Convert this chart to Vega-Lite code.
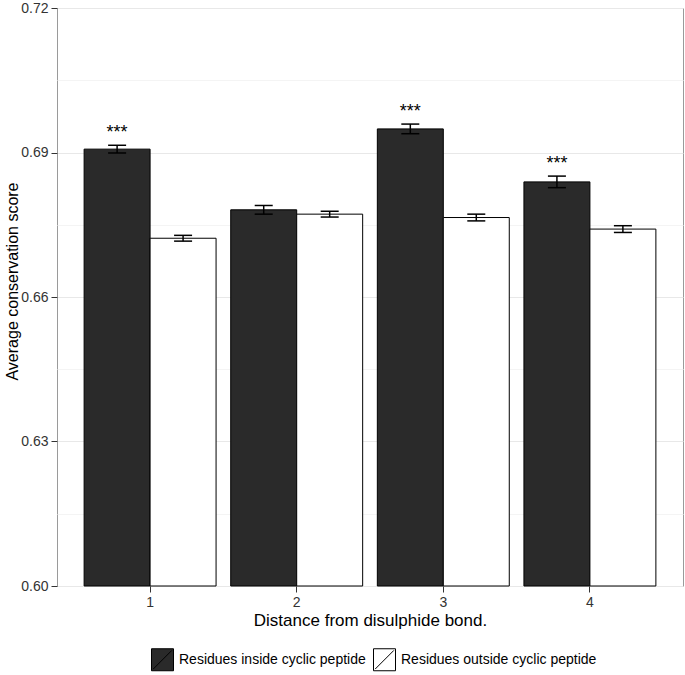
{
  "$schema": "https://vega.github.io/schema/vega-lite/v6.json",
  "width": 626,
  "height": 578,
  "autosize": {"type": "none"},
  "padding": {"left": 57, "top": 8, "right": 2, "bottom": 89},
  "background": "white",
  "config": {
    "font": "Liberation Sans",
    "view": {"stroke": "#9a9a9a", "strokeWidth": 1},
    "axis": {
      "domain": false,
      "tickColor": "#333333",
      "tickSize": 6,
      "labelFontSize": 14,
      "labelColor": "#333333",
      "titleFontSize": 16.5,
      "titleFontWeight": "normal",
      "titleColor": "black"
    }
  },
  "data": {
    "values": [
      {"distance": "1", "group": "Residues inside cyclic peptide", "mean": 0.6907, "lo": 0.6899, "hi": 0.6915, "stars": "***"},
      {"distance": "1", "group": "Residues outside cyclic peptide", "mean": 0.6722, "lo": 0.6716, "hi": 0.6728, "stars": ""},
      {"distance": "2", "group": "Residues inside cyclic peptide", "mean": 0.6781, "lo": 0.6772, "hi": 0.6790, "stars": ""},
      {"distance": "2", "group": "Residues outside cyclic peptide", "mean": 0.6772, "lo": 0.6766, "hi": 0.6778, "stars": ""},
      {"distance": "3", "group": "Residues inside cyclic peptide", "mean": 0.6949, "lo": 0.6939, "hi": 0.6959, "stars": "***"},
      {"distance": "3", "group": "Residues outside cyclic peptide", "mean": 0.6765, "lo": 0.6758, "hi": 0.6772, "stars": ""},
      {"distance": "4", "group": "Residues inside cyclic peptide", "mean": 0.6839, "lo": 0.6827, "hi": 0.6851, "stars": "***"},
      {"distance": "4", "group": "Residues outside cyclic peptide", "mean": 0.6741, "lo": 0.6734, "hi": 0.6748, "stars": ""}
    ]
  },
  "encoding": {
    "x": {
      "field": "distance",
      "type": "ordinal",
      "title": "Distance from disulphide bond.",
      "scale": {"paddingInner": 0.1, "paddingOuter": 0.185},
      "axis": {"labelAngle": 0, "labelPadding": 3, "titlePadding": 3, "titleFontSize": 17, "grid": false}
    },
    "xOffset": {
      "field": "group",
      "type": "nominal",
      "scale": {"domain": ["Residues inside cyclic peptide", "Residues outside cyclic peptide"], "paddingInner": 0, "paddingOuter": 0}
    }
  },
  "layer": [
    {
      "mark": {"type": "bar", "stroke": "black", "strokeWidth": 1},
      "encoding": {
        "y": {
          "field": "mean",
          "type": "quantitative",
          "title": "Average conservation score",
          "scale": {"domain": [0.6, 0.72], "nice": false, "zero": false},
          "axis": {
            "values": [0.6, 0.615, 0.63, 0.645, 0.66, 0.675, 0.69, 0.705, 0.72],
            "labelExpr": "round(datum.value*1000) % 30 == 0 ? format(datum.value, '.2f') : ''",
            "grid": true,
            "gridColor": {"condition": {"test": "round(datum.value*1000) % 30 == 0", "value": "#e8e8e8"}, "value": "#f4f4f4"},
            "tickOpacity": {"condition": {"test": "round(datum.value*1000) % 30 == 0", "value": 1}, "value": 0},
            "labelPadding": 3,
            "titleFontSize": 16,
            "titleBaseline": "middle",
            "titleX": -45,
            "titleY": 273
          }
        },
        "y2": {"datum": 0.6},
        "fill": {
          "field": "group",
          "type": "nominal",
          "scale": {"domain": ["Residues inside cyclic peptide", "Residues outside cyclic peptide"], "range": ["#2a2a2a", "#ffffff"]},
          "legend": {
            "orient": "none",
            "legendX": 94,
            "legendY": 640,
            "direction": "horizontal",
            "title": null,
            "padding": 0,
            "symbolType": "M-1,-1H1V1H-1Z M-0.85,0.85L0.85,-0.85",
            "symbolSize": 484,
            "symbolStrokeColor": "black",
            "symbolStrokeWidth": 1,
            "symbolOpacity": 1,
            "labelFontSize": 14,
            "labelLimit": 0,
            "labelColor": "black",
            "labelOffset": 5,
            "columnPadding": 5
          }
        }
      }
    },
    {
      "mark": {"type": "rule", "strokeWidth": 1.5, "color": "black"},
      "encoding": {
        "y": {"field": "lo", "type": "quantitative"},
        "y2": {"field": "hi"}
      }
    },
    {
      "mark": {"type": "tick", "size": 18, "thickness": 1.5, "color": "black", "opacity": 1},
      "encoding": {"y": {"field": "lo", "type": "quantitative"}}
    },
    {
      "mark": {"type": "tick", "size": 18, "thickness": 1.5, "color": "black", "opacity": 1},
      "encoding": {"y": {"field": "hi", "type": "quantitative"}}
    },
    {
      "mark": {"type": "text", "dy": -7, "baseline": "alphabetic", "fontSize": 18, "color": "black"},
      "encoding": {
        "y": {"field": "hi", "type": "quantitative"},
        "text": {"field": "stars"}
      }
    }
  ]
}
